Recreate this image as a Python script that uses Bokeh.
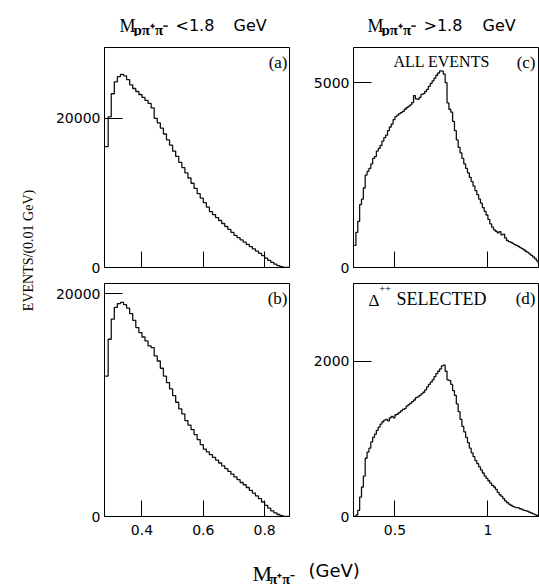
import math
import numpy as np
from bokeh.plotting import figure
from bokeh.models import Range1d, FixedTicker, Label
from bokeh.layouts import row, column
from bokeh.embed import file_html
from bokeh.resources import INLINE

# ---------------- data (EVENTS per 0.01 GeV bin, bins start at 0.28 GeV) -------------
bin_width = 0.01
first_bin = 0.28

counts_a = [16200, 20200, 23300, 24900, 25600, 25900, 25700, 25200, 24500, 24000,
            23600, 23200, 22800, 22400, 22000, 21400, 20000, 19400, 18700, 17900,
            17100, 16400, 15600, 14900, 14100, 13400, 12700, 12000, 11300, 10600,
            9900, 9300, 8700, 8100, 7500, 7100, 6700, 6300, 5900, 5500,
            5100, 4700, 4300, 4000, 3700, 3400, 3100, 2800, 2500, 2200,
            1900, 1600, 1250, 950, 700, 450, 250, 100, 30, 0]

counts_b = [12600, 15900, 17700, 18750, 19100, 19200, 19000, 18700, 18200, 17600,
            16950, 16500, 16100, 15750, 15300, 15150, 14400, 13950, 13300, 12600,
            12000, 11450, 10850, 10250, 9650, 9200, 8600, 8200, 7800, 7350,
            6900, 6450, 6050, 5800, 5550, 5300, 5050, 4800, 4550, 4300,
            4050, 3800, 3550, 3300, 3050, 2850, 2600, 2350, 2100, 1850,
            1600, 1300, 1000, 750, 500, 330, 180, 80, 20, 0]

counts_c = [600, 950, 1250, 1700, 1850, 2150, 2500, 2600, 2680, 2800,
            2950, 3000, 3150, 3220, 3300, 3420, 3510, 3580, 3700, 3800,
            3880, 4000, 4080, 4120, 4160, 4190, 4220, 4280, 4320, 4360,
            4400, 4460, 4650, 4560, 4550, 4600, 4680, 4700, 4760, 4820,
            4900, 4980, 5050, 5120, 5200, 5260, 5320, 5310, 5230, 5000,
            4450, 4280, 4200, 3950, 3700, 3450, 3250, 3100, 2950, 2800,
            2680, 2560, 2440, 2320, 2200, 2080, 1970, 1850, 1740, 1620,
            1520, 1420, 1300, 1180, 1090, 1020, 980, 940, 970, 880,
            900, 800, 730, 700, 680, 650, 620, 600, 570, 540,
            510, 480, 440, 410, 370, 330, 290, 240, 180, 120]

counts_d = [0, 20, 80, 250, 380, 520, 750, 830, 880, 960,
            1020, 1060, 1110, 1150, 1190, 1220, 1240, 1250, 1230, 1270,
            1290, 1270, 1310, 1320, 1340, 1360, 1380, 1390, 1420, 1440,
            1460, 1480, 1500, 1530, 1540, 1560, 1580, 1600, 1630, 1670,
            1700, 1730, 1760, 1800, 1840, 1870, 1900, 1940, 1950, 1870,
            1760, 1750, 1700, 1620, 1560, 1450, 1350, 1250, 1160, 1090,
            1020, 950, 880, 820, 770, 720, 680, 640, 600, 560,
            520, 490, 460, 430, 400, 380, 350, 310, 280, 260,
            230, 200, 180, 160, 145, 130, 120, 115, 110, 100,
            90, 80, 75, 65, 55, 45, 35, 25, 15, 5]

left_xticks = [0.4, 0.6, 0.8]
left_xtick_labels = ["0.4", "0.6", "0.8"]
right_xticks = [0.5, 1.0]
right_xtick_labels = ["0.5", "1"]
yticks_a, ylabels_a = [0, 20000], ["0", "20000"]
yticks_b, ylabels_b = [0, 20000], ["0", "20000"]
yticks_c, ylabels_c = [0, 5000], ["0", "5000"]
yticks_d, ylabels_d = [0, 2000], ["0", "2000"]

left_xrange = (0.278, 0.881)
right_xrange = (0.277, 1.272)
yrange_a = (0, 29500)
yrange_b = (0, 20900)
yrange_c = (0, 5950)
yrange_d = (0, 3000)

SERIF = "Liberation Serif"
SANS = "DejaVu Sans"


def make_panel(counts, xr, yr, xticks, xlabels, yticks, ylabels, show_xlabels,
               width, height, bl, br, bt, bb):
    p = figure(width=width, height=height, x_range=Range1d(*xr), y_range=Range1d(*yr),
               output_backend="svg", toolbar_location=None, title=None,
               min_border_left=bl, min_border_right=br, min_border_top=bt,
               min_border_bottom=bb)
    p.grid.visible = False
    p.outline_line_color = "black"
    p.outline_line_width = 1
    p.background_fill_color = "white"
    p.border_fill_color = "white"

    edges = first_bin + bin_width * np.arange(len(counts) + 1)
    ys = list(counts) + [counts[-1]]
    p.step(edges, ys, mode="after", line_color="#111111", line_width=1.3)

    xa = p.xaxis[0]
    xa.ticker = FixedTicker(ticks=xticks)
    xa.major_label_overrides = {t: l for t, l in zip(xticks, xlabels)}
    xa.major_tick_in = 16
    xa.major_tick_out = 0
    xa.minor_tick_line_color = None
    xa.axis_line_color = "black"
    xa.major_tick_line_color = "black"
    if show_xlabels:
        xa.major_label_text_font = SANS
        xa.major_label_text_font_size = "14px"
        xa.major_label_text_color = "black"
        xa.major_label_standoff = 8
    else:
        xa.major_label_text_color = None
        xa.major_label_text_font_size = "2px"
        xa.major_label_standoff = 0

    ya = p.yaxis[0]
    ya.ticker = FixedTicker(ticks=yticks)
    ya.major_label_overrides = {t: l for t, l in zip(yticks, ylabels)}
    ya.major_tick_in = 18
    ya.major_tick_out = 0
    ya.minor_tick_line_color = None
    ya.axis_line_color = "black"
    ya.major_tick_line_color = "black"
    ya.major_label_text_font = SANS
    ya.major_label_text_font_size = "14px"
    ya.major_label_text_color = "black"
    ya.major_label_standoff = 4
    return p


def add_text(p, x, y, text, font, size, align="left", baseline="alphabetic",
             style="normal", angle=0.0):
    p.add_layout(Label(x=x, y=y, x_units="screen", y_units="screen", text=text,
                       text_font=font, text_font_size=size, text_align=align,
                       text_baseline=baseline, text_font_style=style,
                       text_color="black", angle=angle))


def strip(width, height):
    s = figure(width=width, height=height, x_range=Range1d(0, 1), y_range=Range1d(0, 1),
               output_backend="svg", toolbar_location=None, title=None,
               x_axis_location=None, y_axis_location=None,
               min_border_left=0, min_border_right=0, min_border_top=0,
               min_border_bottom=0)
    s.grid.visible = False
    s.outline_line_color = None
    s.background_fill_color = "white"
    s.border_fill_color = "white"
    return s


# panels
pa = make_panel(counts_a, left_xrange, yrange_a, left_xticks, left_xtick_labels,
                yticks_a, ylabels_a, False, 245, 239, 59, 1, 11, 8)
pc = make_panel(counts_c, right_xrange, yrange_c, right_xticks, right_xtick_labels,
                yticks_c, ylabels_c, False, 249, 239, 63, 1, 11, 8)
pb = make_panel(counts_b, left_xrange, yrange_b, left_xticks, left_xtick_labels,
                yticks_b, ylabels_b, True, 245, 267, 59, 1, 8, 26)
pd = make_panel(counts_d, right_xrange, yrange_d, right_xticks, right_xtick_labels,
                yticks_d, ylabels_d, True, 249, 267, 63, 1, 8, 26)

# panel tags (inside frames)
add_text(pa, 183, 215, "(a)", SERIF, "17px", align="right", baseline="top")
add_text(pb, 183, 228, "(b)", SERIF, "17px", align="right", baseline="top")
add_text(pc, 40, 215, "ALL EVENTS", SERIF, "16px", baseline="top")
add_text(pc, 182, 215, "(c)", SERIF, "17px", align="right", baseline="top")
add_text(pd, 15, 226, "Δ", SERIF, "17px", baseline="top")
add_text(pd, 26, 232, "++", SERIF, "10px", baseline="top")
add_text(pd, 43, 228, "SELECTED", SERIF, "18px", baseline="top")
add_text(pd, 182, 228, "(d)", SERIF, "17px", align="right", baseline="top")

# column titles
top_strip = strip(494, 36)
add_text(top_strip, 74, 11, "M", SERIF, "18px")
add_text(top_strip, 88, 7, "pπ⁺π⁻", SERIF, "15px", style="bold")
add_text(top_strip, 130, 11, "<1.8", SANS, "16px")
add_text(top_strip, 188, 11, "GeV", SANS, "16px")
add_text(top_strip, 322, 11, "M", SERIF, "18px")
add_text(top_strip, 336, 7, "pπ⁺π⁻", SERIF, "15px", style="bold")
add_text(top_strip, 378, 11, ">1.8", SANS, "16px")
add_text(top_strip, 437, 11, "GeV", SANS, "16px")

# y axis title
left_strip = strip(45, 587)
add_text(left_strip, 28, 337, "EVENTS/(0.01 GeV)", SERIF, "14px", align="center",
         baseline="middle", angle=math.pi / 2)

# x axis title
bottom_strip = strip(494, 45)
add_text(bottom_strip, 207, 14, "M", SERIF, "22px")
add_text(bottom_strip, 224, 8, "π⁺π⁻", SERIF, "14px", style="bold")
add_text(bottom_strip, 263, 17, "(GeV)", SANS, "18px")

layout = row(left_strip,
             column(top_strip, row(pa, pc), row(pb, pd), bottom_strip))

open("out.html", "w").write(file_html(layout, INLINE))
